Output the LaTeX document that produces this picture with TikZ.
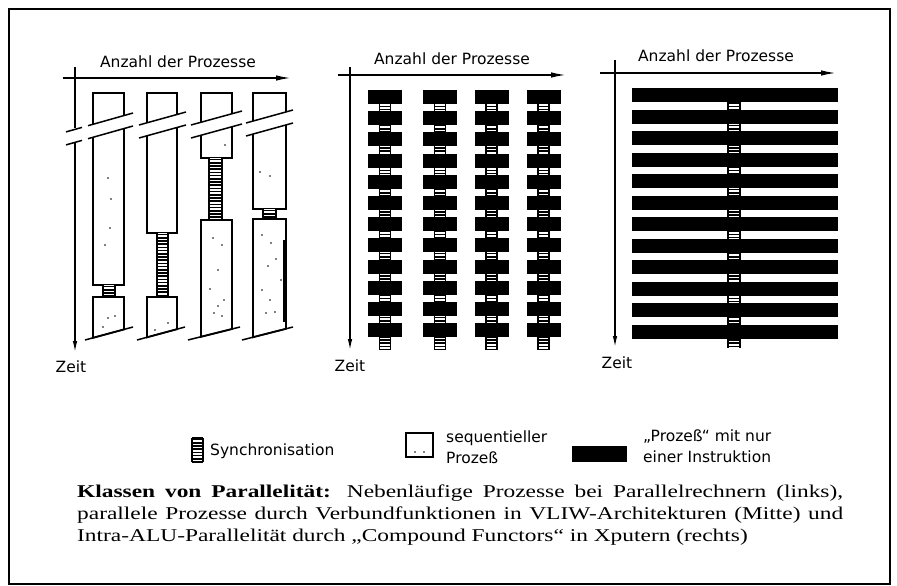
\documentclass[tikz,border=0pt]{standalone}
\usepackage{fontspec}
\setmainfont{Liberation Serif}
\newfontfamily\labfont{DejaVu Sans}
\newfontfamily\capfont[FakeStretch=1.3]{Liberation Serif}
\usetikzlibrary{arrows.meta}
\newcommand\syncbar[4]{%
  \fill[white] (#1,#3) rectangle (#2,#4);
  \draw[line width=1.4pt] (#1,#3) -- (#1,#4) (#2,#3) -- (#2,#4);
  \pgfmathsetmacro\sya{#3+1.5}\pgfmathsetmacro\syb{#3+4.7}%
  \foreach \yy in {\sya,\syb,...,#4} {\draw[line width=1.6pt] (#1,\yy) -- (#2,\yy);}%
}
\tikzset{
  axis/.style={line width=1.6pt},
  harrow/.style={-{Latex[length=15pt,width=5.5pt]}},
  proc/.style={line width=1.8pt, fill=white, line join=miter},
  brk/.style={line width=1.5pt},
  lab/.style={font=\labfont\fontsize{15.5}{18}\selectfont, inner sep=0pt},
  captext/.style={font=\capfont\fontsize{18}{21}\selectfont, inner sep=0pt, anchor=base west},
  stip/.style={fill=black},
}
\begin{document}
\begin{tikzpicture}[x=1pt,y=-1pt]
\useasboundingbox (0,0) rectangle (897,586);
\draw[line width=2.2pt] (9,9) rectangle (890,584);

% ================= Panel 1 =================
\coordinate (a1o) at (63,78);
\coordinate (a1e) at (291,78);
\draw[axis,harrow] (a1o) -- (a1e);
\draw[axis] (75,67) -- (75,128);
\draw[axis,-{Latex[length=12pt,width=4.5pt]}] (75,141) -- (75,353);
% columns
\draw[proc] (93,93) rectangle (124,285);
\syncbar{103}{115}{285}{297}
\draw[proc] (93,297) -- (124,297) -- (124,329.4) -- (93,337.8) -- cycle;

\draw[proc] (147,93) rectangle (177,233);
\syncbar{157}{168}{233}{297}
\draw[proc] (147,297) -- (177,297) -- (177,329.2) -- (147,337.3) -- cycle;

\draw[proc] (201,93) rectangle (232,158);
\syncbar{209}{222}{158}{220}
\draw[proc] (201,220) -- (232,220) -- (232,329) -- (201,336.8) -- cycle;

\draw[proc] (253,93) rectangle (286,209);
\syncbar{263}{276}{209}{219}
\draw[proc] (253,219) -- (286,219) -- (286,328.8) -- (253,337.2) -- cycle;

% breaks
\fill[white] (66,131.9) -- (133,113) -- (133,126) -- (66,144.9) -- cycle;
\fill[white] (139,125) -- (186,112) -- (186,125) -- (139,138) -- cycle;
\fill[white] (191,125) -- (242,111) -- (242,124) -- (191,138) -- cycle;
\fill[white] (246,123) -- (293,110) -- (293,123) -- (246,136) -- cycle;
\draw[brk] (66,131.9) -- (82,127.4) (88,125.7) -- (133,113);
\draw[brk] (66,144.9) -- (82,140.4) (88,138.7) -- (133,126);
\draw[brk] (139,125) -- (186,112) (139,138) -- (186,125);
\draw[brk] (191,125) -- (242,111) (191,138) -- (242,124);
\draw[brk] (246,123) -- (293,110) (246,136) -- (293,123);
% bottom slants
\draw[brk] (85,340) -- (133,327);
\draw[brk] (137,340) -- (185,327);
\draw[brk] (188,340) -- (240,327);
\draw[brk] (242,340) -- (293,327);
% stipple
\foreach \p in {(108,178),(111,199),(105,245),(110,228),(103,327),(108,318),(115,316),
  (168,323),(155,330),
  (213,238),(222,245),(218,270),(210,289),(224,300),(214,313),(222,316),(218,306),
  (262,235),(271,243),(268,266),(276,259),(262,290),(270,300),(275,312),(266,313),(281,280),
  (260,172),(270,176),(225,145)}
  {\fill[stip] \p circle (0.9);}
\draw[line width=2.2pt] (284,240) -- (284,322);

\node[lab,anchor=base] (t1) at (178,67) {Anzahl der Prozesse};
\node[lab] (z1) at (71,367) {Zeit};

% ================= Panel 2 =================
\draw[axis,harrow] (338,75) -- (566,75);
\draw[axis,-{Latex[length=12pt,width=4.5pt]}] (350,67) -- (350,351);
\foreach \cx in {385,440,491.5,543.5}{
  \syncbar{\cx-5.5}{\cx+5.5}{92}{350}
  \foreach \k in {0,...,11}{\fill (\cx-17,90+21.2*\k) rectangle ++(34,14);}
}
\node[lab,anchor=base] (t2) at (452,65) {Anzahl der Prozesse};
\node[lab] (z2) at (350,366) {Zeit};

% ================= Panel 3 =================
\draw[axis,harrow] (600,73) -- (836,73);
\draw[axis,-{Latex[length=12pt,width=4.5pt]}] (615,60) -- (615,348);
\syncbar{728}{740}{92}{348}
\foreach \k in {0,...,11}{\fill (632,88+21.5*\k) rectangle (838,102+21.5*\k);}
\node[lab,anchor=base] (t3) at (716,62) {Anzahl der Prozesse};
\node[lab] (z3) at (617,363) {Zeit};

% ================= Legend =================
\syncbar{192}{203}{438}{462}
\draw[line width=1.4pt] (192,438) -- (203,438) (192,462) -- (203,462);
\node[lab,anchor=base west] (l1) at (210,455) {Synchronisation};
\draw[line width=1.6pt] (406,433) rectangle (433,457);
\fill (415,452) circle (0.8) (424,452) circle (0.8);
\node[lab,anchor=base west] (l2a) at (446,442) {sequentieller};
\node[lab,anchor=base west] (l2b) at (446,463) {Prozeß};
\fill (572,446) rectangle (627,462);
\node[lab,anchor=base west] (l3a) at (643,441) {„Prozeß“ mit nur};
\node[lab,anchor=base west] (l3b) at (643,462) {einer Instruktion};

% ================= Caption =================
\node[captext] (c1) at (77,497) {\makebox[766pt][s]{\textbf{Klassen von Parallelität:} Nebenläufige Prozesse bei Parallelrechnern (links),}};
\node[captext] (c2) at (77,519) {\makebox[766pt][s]{parallele Prozesse durch Verbundfunktionen in VLIW-Architekturen (Mitte) und}};
\node[captext] (c3) at (77,541) {Intra-ALU-Parallelität durch „Compound Functors“ in Xputern (rechts)};
\end{tikzpicture}
\end{document}
